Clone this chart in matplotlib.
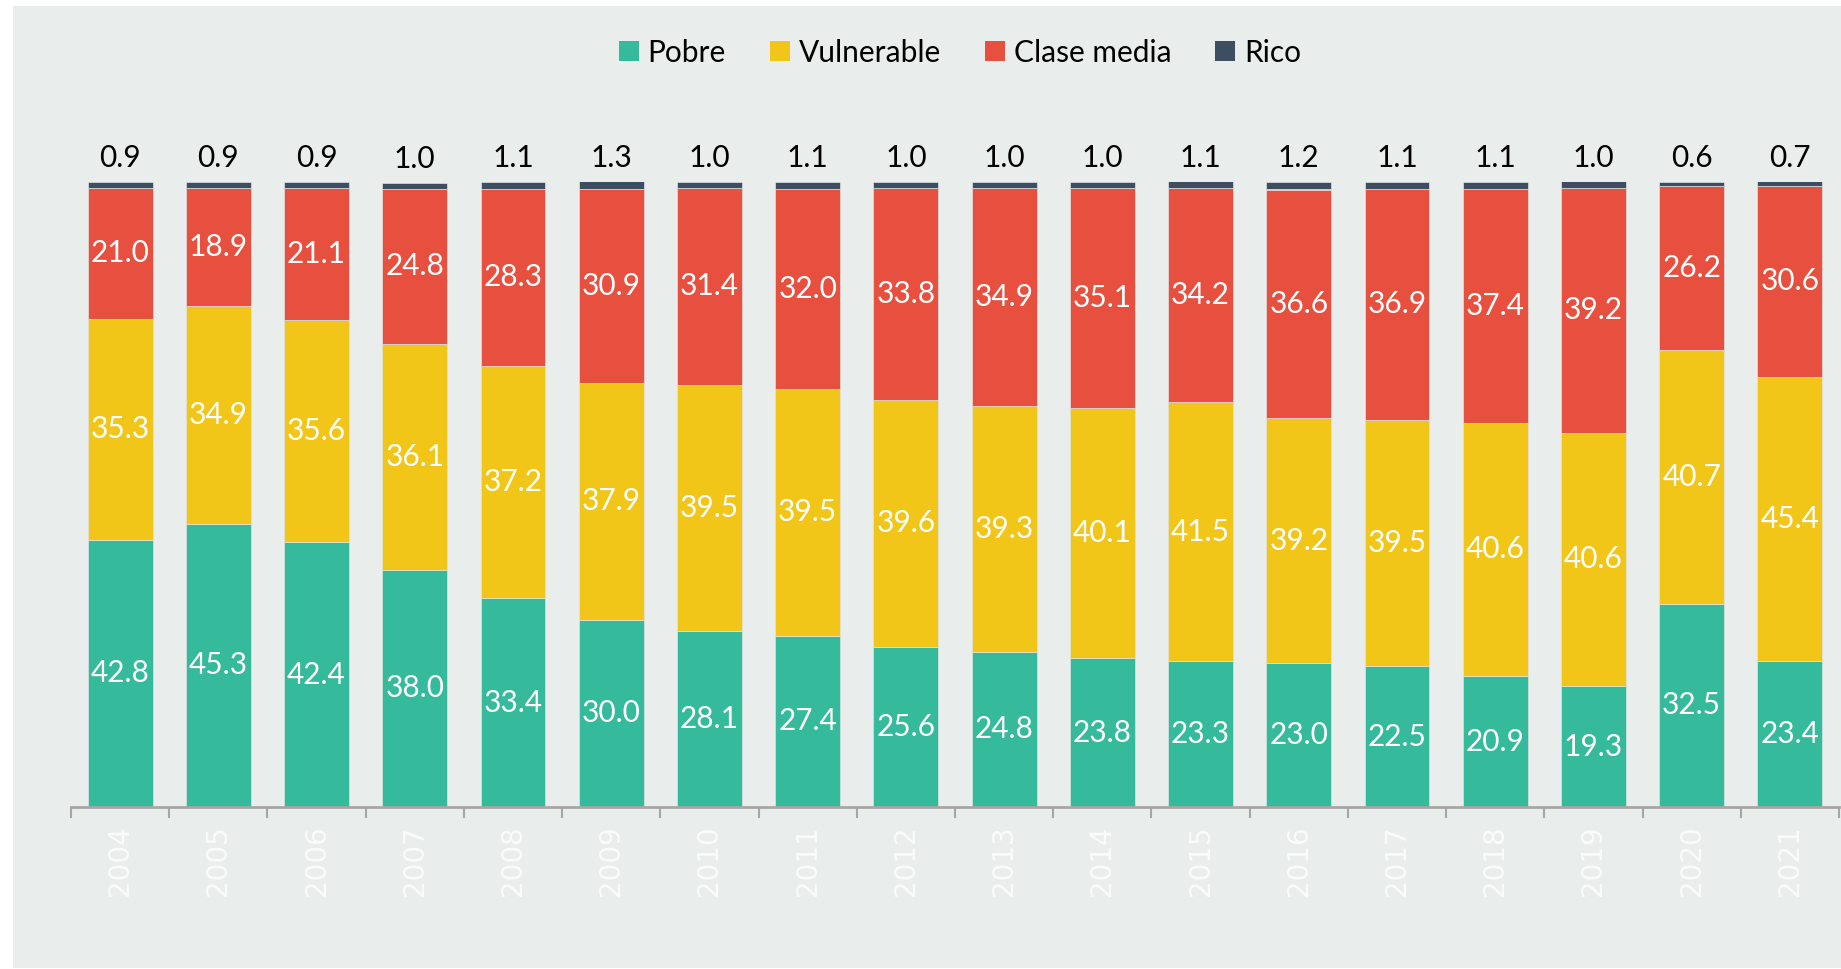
import matplotlib
matplotlib.use("Agg")
import matplotlib.pyplot as plt
from matplotlib.patches import Rectangle
import numpy as np

years = [str(y) for y in range(2004, 2022)]
pobre = [42.8, 45.3, 42.4, 38.0, 33.4, 30.0, 28.1, 27.4, 25.6, 24.8, 23.8, 23.3, 23.0, 22.5, 20.9, 19.3, 32.5, 23.4]
vulnerable = [35.3, 34.9, 35.6, 36.1, 37.2, 37.9, 39.5, 39.5, 39.6, 39.3, 40.1, 41.5, 39.2, 39.5, 40.6, 40.6, 40.7, 45.4]
clase_media = [21.0, 18.9, 21.1, 24.8, 28.3, 30.9, 31.4, 32.0, 33.8, 34.9, 35.1, 34.2, 36.6, 36.9, 37.4, 39.2, 26.2, 30.6]
rico = [0.9, 0.9, 0.9, 1.0, 1.1, 1.3, 1.0, 1.1, 1.0, 1.0, 1.0, 1.1, 1.2, 1.1, 1.1, 1.0, 0.6, 0.7]

series = [("Pobre", pobre, "#35BA9B"),
          ("Vulnerable", vulnerable, "#F2C618"),
          ("Clase media", clase_media, "#E74F3F"),
          ("Rico", rico, "#3C4E5F")]

W, H = 1841, 969
fig = plt.figure(figsize=(W / 100, H / 100), dpi=100, facecolor="white")
fig.patches.append(Rectangle((13 / W, 1 / H), (W - 13) / W, (H - 7) / H,
                             transform=fig.transFigure, facecolor="#E9EDEC",
                             edgecolor="none", zorder=-10))

ax = fig.add_axes([71 / W, (H - 807) / H, (1839 - 71) / W, (807 - 182) / H])
ax.set_facecolor("none")

x = np.arange(len(years))
width = 0.66
bottom = np.zeros(len(years))
label_font = dict(family=["Lato", "DejaVu Sans"], fontsize=21.5)
bars_by_series = []
for name, vals, color in series:
    vals = np.array(vals)
    ax.bar(x, vals, width, bottom=bottom, color=color, label=name,
           edgecolor="#dfe3e2", linewidth=0.5)
    bars_by_series.append((name, vals, bottom.copy()))
    bottom = bottom + vals

for name, vals, bot in bars_by_series:
    for i, v in enumerate(vals):
        if name == "Rico":
            ax.annotate(f"{v:.1f}", (x[i], bot[i] + v), xytext=(0, 10.5),
                        textcoords="offset points", ha="center", va="baseline",
                        color="black", annotation_clip=False, **label_font)
        else:
            ax.text(x[i], bot[i] + v / 2, f"{v:.1f}", ha="center", va="center",
                    color="white", **label_font)

ax.set_xlim(-0.5, len(years) - 0.5)
ax.set_ylim(0, 100)
for s in ["left", "right", "top"]:
    ax.spines[s].set_visible(False)
ax.spines["bottom"].set_color("#A6A6A6")
ax.spines["bottom"].set_linewidth(2)
ax.set_yticks([])
ax.set_xticks(x)
ax.set_xticklabels(years, rotation=90, color="#FAFBFB", fontsize=20,
                   family="DejaVu Sans")
ax.tick_params(axis="x", which="major", length=0, pad=13)
ax.set_xticks(np.arange(-0.5, len(years)), minor=True)
ax.tick_params(axis="x", which="minor", length=8, width=1.5, color="#A6A6A6")

handles, labels = ax.get_legend_handles_labels()
leg = fig.legend(handles, labels, loc="center", bbox_to_anchor=(960 / W, 1 - 52.5 / H),
                 ncol=4, frameon=False, handlelength=0.67, handleheight=0.67,
                 handletextpad=0.3, columnspacing=1.47,
                 prop=dict(family=["Lato", "DejaVu Sans"], size=21.5))
for h in leg.legend_handles:
    h.set_edgecolor("none")

fig.savefig("out.png", dpi=100, facecolor="white")
